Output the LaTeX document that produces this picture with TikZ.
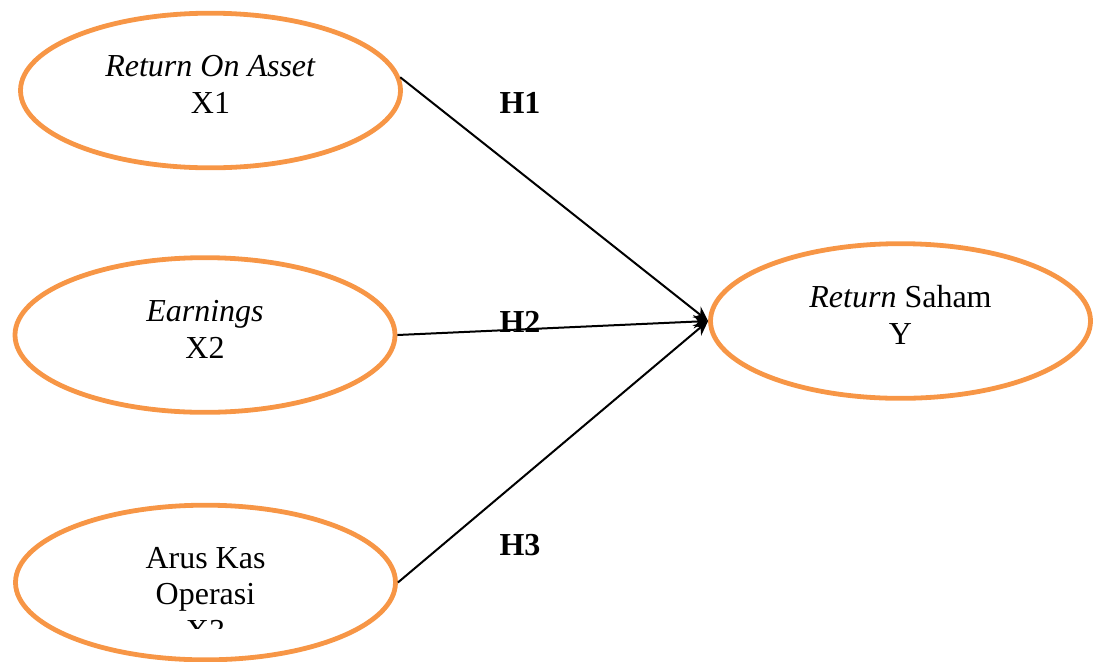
\documentclass[tikz,border=0pt]{standalone}
\usepackage{fontspec}
\setmainfont{Liberation Serif}
\usepackage{xcolor}
\usepackage{tikz}
\usetikzlibrary{arrows.meta, positioning, shapes.geometric}
\definecolor{varorange}{HTML}{F79646}

\begin{document}
\begin{tikzpicture}[
    x=0.75pt, y=-0.75pt,
    varbox/.style={draw=varorange, line width=3.6pt, ellipse, inner sep=0pt, minimum width=285pt, minimum height=116pt},
    vartext/.style={align=center, inner sep=0pt, font=\fontsize{24}{27.6}\selectfont},
    hyp/.style={inner sep=0pt, font=\fontsize{24}{27.6}\selectfont\bfseries},
    arr/.style={-{Stealth[length=11pt, width=10pt]}, line width=1.5pt}
]
    \useasboundingbox (0,0) rectangle (1094,661);

    % Variables
    \node[varbox] (x1) at (210.5, 90.5) {};
    \node[varbox] (x2) at (205, 335) {};
    \node[varbox] (x3) at (205.5, 582.5) {};
    \node[varbox] (y)  at (900.5, 321) {};

    % Texts
    \node[vartext, below=33.5pt of x1.north] (x1txt) {\textit{Return On Asset}\\X1};
    \node[vartext, below=33.5pt of x2.north] (x2txt) {\textit{Earnings}\\X2};
    \node[vartext, below=33pt of y.north]    (ytxt)  {\textit{Return} Saham\\Y};
    \begin{scope}
        \clip (0,0) rectangle (1094,628);
        \node[vartext, below=33pt of x3.north] (x3txt) {Arus Kas\\Operasi\\X3};
    \end{scope}

    % Hypotheses
    \node[hyp] (h1) at (520, 102.5) {H1};
    \node[hyp] (h2) at (520, 322) {H2};
    \node[hyp] (h3) at (520, 545) {H3};

    % Connections
    \draw[arr] (x1.4) -- (y.west);
    \draw[arr] (x2.east) -- (y.west);
    \draw[arr] (x3.east) -- (y.west);
\end{tikzpicture}
\end{document}
